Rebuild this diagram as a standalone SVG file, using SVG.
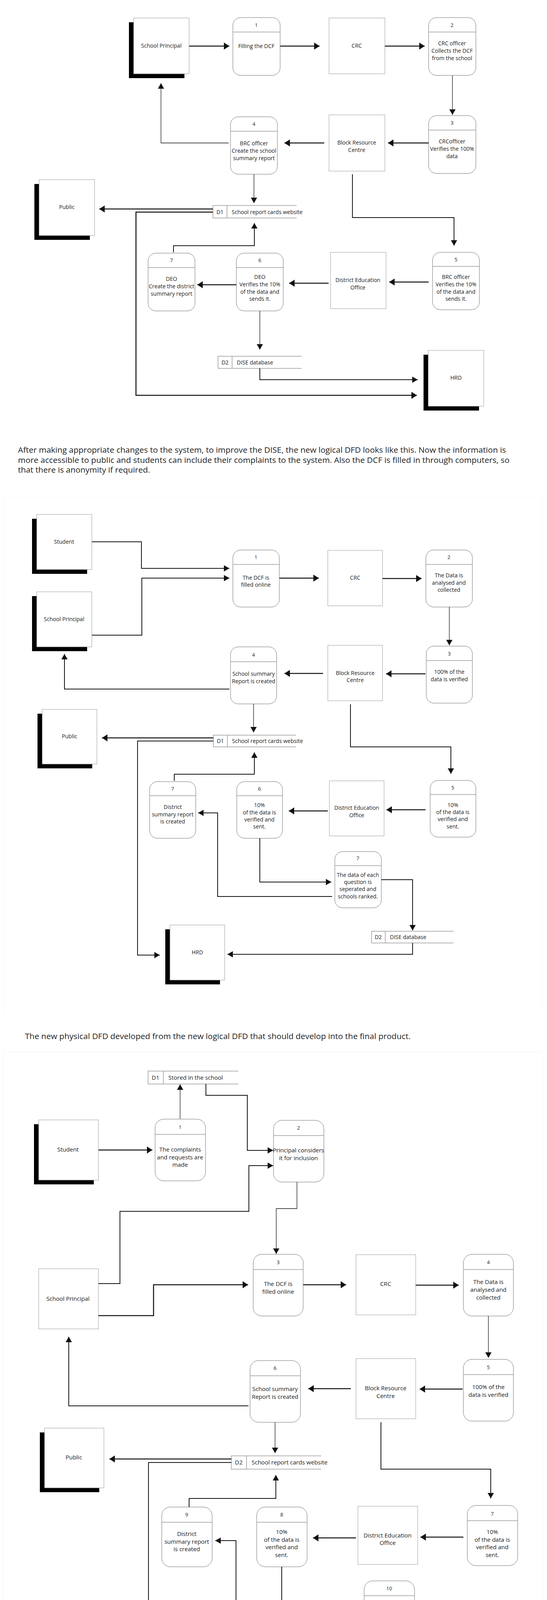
<svg xmlns="http://www.w3.org/2000/svg" width="1400" height="4482" viewBox="0 0 1400 4482">
<style>
.bg{fill:#ffffff}
.ent{fill:#ffffff;stroke:#999999;stroke-width:1}
.sh{fill:#000000}
.proc{fill:#ffffff;stroke:#6e6e6e;stroke-width:1}
.dv{stroke:#9a9a9a;stroke-width:1.5}
.st{fill:none;stroke:#9a9a9a;stroke-width:1.5}
.frame{fill:none;stroke:#f5f5f5;stroke-width:1}
.t{font-family:"Open Sans","Liberation Sans",sans-serif;font-size:14px;fill:#1a1a1a;text-anchor:middle}
.t3{font-family:"Open Sans","Liberation Sans",sans-serif;font-size:15px;fill:#1a1a1a;text-anchor:middle}
.n{font-family:"Open Sans","Liberation Sans",sans-serif;font-size:13px;fill:#1a1a1a;text-anchor:middle}
.sl{font-family:"Open Sans","Liberation Sans",sans-serif;font-size:14px;fill:#1a1a1a}
.sl3{font-family:"Open Sans","Liberation Sans",sans-serif;font-size:15px;fill:#1a1a1a}
.p{font-family:"Open Sans","Liberation Sans",sans-serif;font-size:20px;fill:#222222}
.k{fill:none;stroke:#111111;stroke-width:2.6;marker-end:url(#ab)}
.m{fill:none;stroke:#111111;stroke-width:2;marker-end:url(#am)}
.w{fill:none;stroke:#111111;stroke-width:1.3;marker-end:url(#am)}
</style>
<defs>
<marker id="ab" markerUnits="userSpaceOnUse" viewBox="0 0 14 18" markerWidth="14" markerHeight="18" refX="14" refY="9" orient="auto"><path d="M0,0 L14,9 L0,18 Z" fill="#111111"/></marker>
<marker id="am" markerUnits="userSpaceOnUse" viewBox="0 0 14 16" markerWidth="14" markerHeight="16" refX="14" refY="8" orient="auto"><path d="M0,0 L14,8 L0,16 Z" fill="#111111"/></marker>
</defs>
<rect class="bg" x="0" y="0" width="1400" height="4482"/>

<!-- ================= DIAGRAM 1 ================= -->
<g id="d1-principal"><rect class="sh" x="330" y="57" width="142" height="143"/><rect class="ent" x="342" y="46" width="142" height="143"/><text class="t" x="413" y="122">School Principal</text></g>
<g id="d1-crc"><rect class="ent" x="842" y="46" width="143" height="143"/><text class="t" x="913" y="122">CRC</text></g>
<g id="d1-brc"><rect class="ent" x="842" y="294" width="143" height="144"/><text class="t" x="913" y="370">Block Resource<tspan x="913" y="389">Centre</tspan></text></g>
<g id="d1-public"><rect class="sh" x="88" y="471" width="142" height="143"/><rect class="ent" x="100" y="460" width="142" height="143"/><text class="t" x="171" y="535">Public</text></g>
<g id="d1-deo"><rect class="ent" x="846" y="646" width="142" height="144"/><text class="t" x="916" y="722">District Education<tspan x="916" y="741">Office</tspan></text></g>
<g id="d1-hrd"><rect class="sh" x="1084" y="908" width="142" height="143"/><rect class="ent" x="1096" y="897" width="142" height="143"/><text class="t" x="1167" y="972">HRD</text></g>

<g id="d1-p1"><rect class="proc" x="596" y="45" width="121" height="148" rx="20"/><line class="dv" x1="596" y1="82" x2="717" y2="82"/><text class="n" x="656" y="69">1</text><text class="t" x="656" y="123">Filling the DCF</text></g>
<g id="d1-p2"><rect class="proc" x="1097" y="45" width="121" height="148" rx="20"/><line class="dv" x1="1097" y1="82" x2="1218" y2="82"/><text class="n" x="1157" y="69">2</text><text class="t" x="1157" y="116">CRC officer<tspan x="1157" y="135">Collects the DCF</tspan><tspan x="1157" y="154">from the school</tspan></text></g>
<g id="d1-p3"><rect class="proc" x="1097" y="296" width="121" height="148" rx="20"/><line class="dv" x1="1097" y1="333" x2="1218" y2="333"/><text class="n" x="1157" y="319">3</text><text class="t" x="1157" y="367">CRCofficer<tspan x="1157" y="386">Verifies the 100%</tspan><tspan x="1157" y="405">data</tspan></text></g>
<g id="d1-p4"><rect class="proc" x="590" y="299" width="120" height="147" rx="20"/><line class="dv" x1="590" y1="336" x2="710" y2="336"/><text class="n" x="650" y="322">4</text><text class="t" x="650" y="372">BRC officer<tspan x="650" y="391">Create the school</tspan><tspan x="650" y="410">summary report</tspan></text></g>
<g id="d1-p5"><rect class="proc" x="1107" y="646" width="120" height="147" rx="20"/><line class="dv" x1="1107" y1="682" x2="1227" y2="682"/><text class="n" x="1167" y="669">5</text><text class="t" x="1167" y="714">BRC officer<tspan x="1167" y="733">Verifies the 10%</tspan><tspan x="1167" y="752">of the data and</tspan><tspan x="1167" y="770">sends it.</tspan></text></g>
<g id="d1-p6"><rect class="proc" x="605" y="648" width="120" height="148" rx="20"/><line class="dv" x1="605" y1="685" x2="725" y2="685"/><text class="n" x="665" y="671">6</text><text class="t" x="665" y="714">DEO<tspan x="665" y="733">Verifies the 10%</tspan><tspan x="665" y="752">of the data and</tspan><tspan x="665" y="770">sends it.</tspan></text></g>
<g id="d1-p7"><rect class="proc" x="379" y="648" width="120" height="148" rx="20"/><line class="dv" x1="379" y1="685" x2="499" y2="685"/><text class="n" x="439" y="671">7</text><text class="t" x="439" y="719">DEO<tspan x="439" y="738">Create the district</tspan><tspan x="439" y="757">summary report</tspan></text></g>

<g id="d1-store1"><path class="st" d="M759,526 H545 V558 H759 M581,526 V558"/><text class="t" x="563" y="548">D1</text><text class="sl" x="593" y="548">School report cards website</text></g>
<g id="d1-store2"><path class="st" d="M772,912 H558 V943 H772 M594,912 V943"/><text class="t" x="576" y="933">D2</text><text class="sl" x="606" y="933">DISE database</text></g>

<g id="d1-connectors">
<path class="k" d="M484,118 L587,118"/>
<path class="k" d="M717,118 L818,118"/>
<path class="k" d="M985,118 L1087,118"/>
<path class="w" d="M1158,193 L1158,294"/>
<path class="k" d="M1097,366 L993,366"/>
<path class="k" d="M830,366 L728,366"/>
<path class="w" d="M585,366 L412,366 L412,213"/>
<path class="w" d="M650,446 L650,520"/>
<path class="k" d="M545,535 L254,535"/>
<path class="k" d="M545,543 L348,543 L348,1012 L1067,1012"/>
<path class="m" d="M902,446 L902,557 L1162,557 L1162,629"/>
<path class="k" d="M1097,722 L996,722"/>
<path class="k" d="M841,725 L740,725"/>
<path class="k" d="M605,729 L505,729"/>
<path class="m" d="M444,646 L444,629 L651,629 L651,571"/>
<path class="w" d="M665,796 L665,895"/>
<path class="m" d="M665,943 L665,972 L1069,972"/>
</g>

<text class="p" x="46" y="1159" textLength="1249" lengthAdjust="spacingAndGlyphs">After making appropriate changes to the system, to improve the DISE, the new logical DFD looks like this. Now the information is</text>
<text class="p" x="46" y="1185" textLength="1258" lengthAdjust="spacingAndGlyphs">more accessible to public and students can include their complaints to the system. Also the DCF is filled in through computers, so</text>
<text class="p" x="46" y="1210" textLength="338" lengthAdjust="spacingAndGlyphs">that there is anonymity if required.</text>

<!-- ================= DIAGRAM 2 ================= -->
<path class="frame" d="M11,2593 L11,1270 L1388,1270 L1388,2593"/>
<g id="d2-student"><rect class="sh" x="82" y="1328" width="141" height="141"/><rect class="ent" x="94" y="1317" width="141" height="141"/><text class="t" x="164" y="1392">Student</text></g>
<g id="d2-principal"><rect class="sh" x="82" y="1526" width="141" height="141"/><rect class="ent" x="94" y="1515" width="141" height="141"/><text class="t" x="164" y="1590">School Principal</text></g>
<g id="d2-crc"><rect class="ent" x="839" y="1409" width="140" height="142"/><text class="t" x="909" y="1484">CRC</text></g>
<g id="d2-brc"><rect class="ent" x="839" y="1652" width="140" height="142"/><text class="t" x="909" y="1728">Block Resource<tspan x="909" y="1746">Centre</tspan></text></g>
<g id="d2-public"><rect class="sh" x="96" y="1827" width="140" height="140"/><rect class="ent" x="108" y="1816" width="140" height="140"/><text class="t" x="178" y="1890">Public</text></g>
<g id="d2-deo"><rect class="ent" x="843" y="1999" width="140" height="141"/><text class="t" x="913" y="2073">District Education<tspan x="913" y="2092">Office</tspan></text></g>
<g id="d2-hrd"><rect class="sh" x="423" y="2379" width="140" height="141"/><rect class="ent" x="435" y="2368" width="140" height="141"/><text class="t" x="505" y="2443">HRD</text></g>

<g id="d2-p1"><rect class="proc" x="596" y="1408" width="119" height="146" rx="20"/><line class="dv" x1="596" y1="1445" x2="715" y2="1445"/><text class="n" x="655" y="1431">1</text><text class="t" x="655" y="1484">The DCF is<tspan x="655" y="1502">filled online</tspan></text></g>
<g id="d2-p2"><rect class="proc" x="1090" y="1408" width="119" height="146" rx="20"/><line class="dv" x1="1090" y1="1445" x2="1209" y2="1445"/><text class="n" x="1149" y="1431">2</text><text class="t" x="1149" y="1478">The Data is<tspan x="1149" y="1497">analysed and</tspan><tspan x="1149" y="1515">collected</tspan></text></g>
<g id="d2-p3"><rect class="proc" x="1091" y="1654" width="118" height="146" rx="20"/><line class="dv" x1="1091" y1="1691" x2="1209" y2="1691"/><text class="n" x="1150" y="1678">3</text><text class="t" x="1150" y="1725">100% of the<tspan x="1150" y="1744">data is verified</tspan></text></g>
<g id="d2-p4"><rect class="proc" x="590" y="1656" width="118" height="146" rx="20"/><line class="dv" x1="590" y1="1694" x2="708" y2="1694"/><text class="n" x="649" y="1681">4</text><text class="t" x="649" y="1730">School summary<tspan x="649" y="1749">Report is created</tspan></text></g>
<g id="d2-p5"><rect class="proc" x="1101" y="1998" width="117" height="145" rx="20"/><line class="dv" x1="1101" y1="2034" x2="1218" y2="2034"/><text class="n" x="1159" y="2021">5</text><text class="t" x="1159" y="2066">10%<tspan x="1159" y="2084">of the data is</tspan><tspan x="1159" y="2102">verified and</tspan><tspan x="1159" y="2121">sent.</tspan></text></g>
<g id="d2-p6"><rect class="proc" x="606" y="2001" width="117" height="145" rx="20"/><line class="dv" x1="606" y1="2037" x2="723" y2="2037"/><text class="n" x="664" y="2024">6</text><text class="t" x="664" y="2066">10%<tspan x="664" y="2085">of the data is</tspan><tspan x="664" y="2103">verified and</tspan><tspan x="664" y="2121">sent.</tspan></text></g>
<g id="d2-p7"><rect class="proc" x="383" y="2001" width="118" height="145" rx="20"/><line class="dv" x1="383" y1="2037" x2="501" y2="2037"/><text class="n" x="442" y="2024">7</text><text class="t" x="442" y="2071">District<tspan x="442" y="2090">summary report</tspan><tspan x="442" y="2108">is created</tspan></text></g>
<g id="d2-p7b"><rect class="proc" x="857" y="2180" width="119" height="144" rx="20"/><line class="dv" x1="857" y1="2216" x2="976" y2="2216"/><text class="n" x="916" y="2202">7</text><text class="t" x="916" y="2245">The data of each<tspan x="916" y="2263">question is</tspan><tspan x="916" y="2281">seperated and</tspan><tspan x="916" y="2300">schools ranked.</tspan></text></g>

<g id="d2-store1"><path class="st" d="M757,1882 H546 V1912 H757 M582,1882 V1912"/><text class="t" x="564" y="1902">D1</text><text class="sl" x="594" y="1902">School report cards website</text></g>
<g id="d2-store2"><path class="st" d="M1161,2384 H951 V2414 H1161 M986,2384 V2414"/><text class="t" x="968" y="2404">D2</text><text class="sl" x="998" y="2404">DISE database</text></g>

<g id="d2-connectors">
<path class="m" d="M235,1387 L362,1387 L362,1455 L587,1455"/>
<path class="m" d="M235,1626 L363,1626 L363,1480 L587,1480"/>
<path class="k" d="M715,1480 L816,1480"/>
<path class="k" d="M979,1481 L1079,1481"/>
<path class="w" d="M1150,1554 L1150,1652"/>
<path class="k" d="M1089,1725 L988,1725"/>
<path class="k" d="M827,1724 L728,1724"/>
<path class="m" d="M587,1764 L165,1764 L165,1674"/>
<path class="w" d="M649,1802 L649,1875"/>
<path class="k" d="M546,1889 L261,1889"/>
<path class="m" d="M546,1897 L352,1897 L352,2445 L409,2445"/>
<path class="m" d="M897,1803 L897,1912 L1154,1912 L1154,1981"/>
<path class="k" d="M1089,2073 L989,2073"/>
<path class="k" d="M839,2076 L739,2076"/>
<path class="m" d="M446,1999 L446,1982 L651,1982 L651,1926"/>
<path class="m" d="M850,2295 L557,2295 L557,2081 L507,2081"/>
<path class="m" d="M665,2146 L665,2258 L848,2258"/>
<path class="m" d="M976,2252 L1056,2252 L1056,2382"/>
<path class="m" d="M1056,2414 L1056,2443 L582,2443"/>
</g>

<text class="p" x="64" y="2660" textLength="987" lengthAdjust="spacingAndGlyphs">The new physical DFD developed from the new logical DFD that should develop into the final product.</text>

<!-- ================= DIAGRAM 3 ================= -->
<path class="frame" d="M8,4482 L8,2693 L1390,2693 L1390,4482"/>
<g id="d3-student"><rect class="sh" x="87" y="2878" width="153" height="154"/><rect class="ent" x="99" y="2867" width="153" height="154"/><text class="t3" x="174" y="2948">Student</text></g>
<g id="d3-principal"><rect class="ent" x="99" y="3248" width="153" height="154"/><text class="t3" x="174" y="3330">School Principal</text></g>
<g id="d3-crc"><rect class="ent" x="911" y="3212" width="153" height="154"/><text class="t3" x="987" y="3292">CRC</text></g>
<g id="d3-brc"><rect class="ent" x="911" y="3478" width="153" height="154"/><text class="t3" x="987" y="3559">Block Resource<tspan x="987" y="3579">Centre</tspan></text></g>
<g id="d3-public"><rect class="sh" x="102" y="3667" width="152" height="153"/><rect class="ent" x="114" y="3656" width="152" height="153"/><text class="t3" x="189" y="3736">Public</text></g>
<g id="d3-deo"><rect class="ent" x="916" y="3856" width="153" height="149"/><text class="t3" x="992" y="3936">District Education<tspan x="992" y="3955">Office</tspan></text></g>
<g id="d3-hrd"><rect class="sh" x="459" y="4256" width="152" height="149"/><rect class="ent" x="471" y="4245" width="152" height="149"/><text class="t3" x="546" y="4323">HRD</text></g>

<g id="d3-p1"><rect class="proc" x="397" y="2865" width="129" height="158" rx="22"/><line class="dv" x1="397" y1="2904" x2="526" y2="2904"/><text class="n" x="461" y="2890">1</text><text class="t3" x="461" y="2948">The complaints<tspan x="461" y="2968">and requests are</tspan><tspan x="461" y="2987">made</tspan></text></g>
<g id="d3-p2"><rect class="proc" x="700" y="2868" width="129" height="158" rx="22"/><line class="dv" x1="700" y1="2907" x2="829" y2="2907"/><text class="n" x="764" y="2892">2</text><text class="t3" x="764" y="2950">Principal considers<tspan x="764" y="2970">it for inclusion</tspan></text></g>
<g id="d3-p3"><rect class="proc" x="648" y="3211" width="128" height="158" rx="22"/><line class="dv" x1="648" y1="3250" x2="776" y2="3250"/><text class="n" x="712" y="3236">3</text><text class="t3" x="712" y="3292">The DCF is<tspan x="712" y="3312">filled online</tspan></text></g>
<g id="d3-p4"><rect class="proc" x="1186" y="3211" width="128" height="158" rx="22"/><line class="dv" x1="1186" y1="3250" x2="1314" y2="3250"/><text class="n" x="1250" y="3236">4</text><text class="t3" x="1250" y="3287">The Data is<tspan x="1250" y="3307">analysed and</tspan><tspan x="1250" y="3327">collected</tspan></text></g>
<g id="d3-p5"><rect class="proc" x="1186" y="3480" width="128" height="158" rx="22"/><line class="dv" x1="1186" y1="3519" x2="1314" y2="3519"/><text class="n" x="1250" y="3505">5</text><text class="t3" x="1250" y="3556">100% of the<tspan x="1250" y="3576">data is verified</tspan></text></g>
<g id="d3-p6"><rect class="proc" x="640" y="3483" width="129" height="158" rx="22"/><line class="dv" x1="640" y1="3522" x2="769" y2="3522"/><text class="n" x="704" y="3507">6</text><text class="t3" x="704" y="3561">School summary<tspan x="704" y="3581">Report is created</tspan></text></g>
<g id="d3-p7"><rect class="proc" x="1196" y="3854" width="129" height="154" rx="22"/><line class="dv" x1="1196" y1="3893" x2="1325" y2="3893"/><text class="n" x="1260" y="3880">7</text><text class="t3" x="1260" y="3927">10%<tspan x="1260" y="3947">of the data is</tspan><tspan x="1260" y="3966">verified and</tspan><tspan x="1260" y="3986">sent.</tspan></text></g>
<g id="d3-p8"><rect class="proc" x="657" y="3858" width="129" height="153" rx="22"/><line class="dv" x1="657" y1="3897" x2="786" y2="3897"/><text class="n" x="721" y="3882">8</text><text class="t3" x="721" y="3927">10%<tspan x="721" y="3947">of the data is</tspan><tspan x="721" y="3966">verified and</tspan><tspan x="721" y="3986">sent.</tspan></text></g>
<g id="d3-p9"><rect class="proc" x="414" y="3858" width="129" height="153" rx="22"/><line class="dv" x1="414" y1="3897" x2="543" y2="3897"/><text class="n" x="478" y="3882">9</text><text class="t3" x="478" y="3932">District<tspan x="478" y="3952">summary report</tspan><tspan x="478" y="3971">is created</tspan></text></g>
<g id="d3-p10"><rect class="proc" x="932" y="4047" width="129" height="152" rx="22"/><line class="dv" x1="932" y1="4085" x2="1061" y2="4085"/><text class="n" x="996" y="4071">10</text><text class="t3" x="996" y="4115">The data of each<tspan x="996" y="4134">question is</tspan><tspan x="996" y="4154">seperated and</tspan><tspan x="996" y="4173">schools ranked.</tspan></text></g>

<g id="d3-store1"><path class="st" d="M610,2742 H379 V2775 H610 M418,2742 V2775"/><text class="t3" x="398" y="2764">D1</text><text class="sl3" x="431" y="2764">Stored in the school</text></g>
<g id="d3-store2"><path class="st" d="M822,3727 H592 V3761 H822 M631,3727 V3761"/><text class="t3" x="611" y="3749">D2</text><text class="sl3" x="644" y="3749">School report cards website</text></g>
<g id="d3-store3"><path class="st" d="M1264,4261 H1033 V4293 H1264 M1072,4261 V4293"/><text class="t3" x="1052" y="4282">D3</text><text class="sl3" x="1085" y="4282">DISE database</text></g>

<g id="d3-connectors">
<path class="w" d="M461,2864 L461,2776"/>
<path class="m" d="M527,2775 L527,2804 L633,2804 L633,2945 L699,2945"/>
<path class="k" d="M252,2944 L390,2944"/>
<path class="m" d="M252,3286 L307,3286 L307,3101 L637,3101 L637,2984 L699,2984"/>
<path class="w" d="M760,3026 L760,3094 L707,3094 L707,3210"/>
<path class="k" d="M252,3368 L393,3368 L393,3289 L635,3289"/>
<path class="k" d="M776,3289 L886,3289"/>
<path class="k" d="M1064,3290 L1174,3290"/>
<path class="w" d="M1250,3369 L1250,3476"/>
<path class="k" d="M1184,3556 L1074,3556"/>
<path class="k" d="M898,3555 L789,3555"/>
<path class="m" d="M636,3599 L176,3599 L176,3422"/>
<path class="w" d="M704,3641 L704,3720"/>
<path class="k" d="M592,3735 L280,3735"/>
<path class="m" d="M592,3744 L380,3744 L380,4326 L441,4326"/>
<path class="m" d="M975,3641 L975,3761 L1256,3761 L1256,3836"/>
<path class="m" d="M484,3858 L484,3836 L706,3836 L706,3776"/>
<path class="k" d="M1186,3935 L1076,3935"/>
<path class="k" d="M911,3937 L801,3937"/>
<path class="m" d="M721,4011 L721,4129 L922,4129"/>
<path class="m" d="M923,4168 L604,4168 L604,3944 L551,3944"/>
<path class="m" d="M1061,4123 L1148,4123 L1148,4260"/>
<path class="m" d="M1148,4293 L1148,4323 L631,4323"/>
</g>
</svg>
